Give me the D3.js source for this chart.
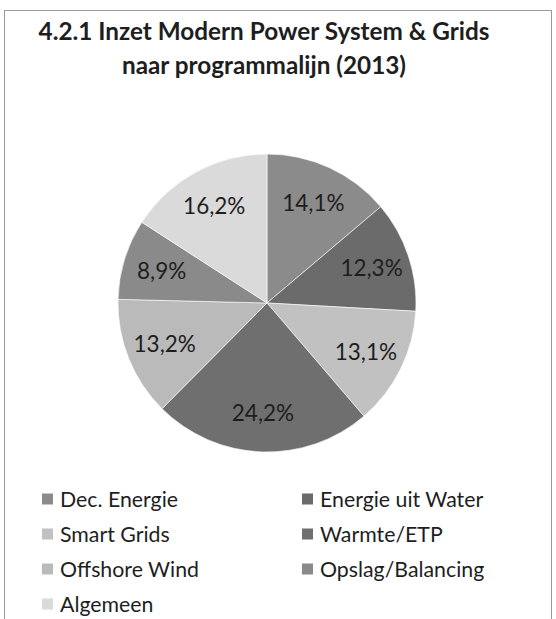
<!DOCTYPE html>
<html>
<head>
<meta charset="utf-8">
<script src="https://cdn.jsdelivr.net/npm/d3@7"></script>
<style>
  html, body { margin: 0; padding: 0; background: #ffffff; }
  svg { display: block; }
  text { font-family: Lato, "Open Sans", sans-serif; fill: #1e1e1e; }
</style>
</head>
<body>
<svg id="chart" width="556" height="619"></svg>
<script>
// Programme lines and their share of the 2013 budget (percent)
const categories = [
  "Dec. Energie",
  "Energie uit Water",
  "Smart Grids",
  "Warmte/ETP",
  "Offshore Wind",
  "Opslag/Balancing",
  "Algemeen"
];
const shares = [14.1, 12.3, 13.1, 24.2, 13.2, 8.9, 16.2];
const shareLabels = ["14,1%", "12,3%", "13,1%", "24,2%", "13,2%", "8,9%", "16,2%"];
const sliceColors = ["#8b8b8b", "#6b6b6b", "#c1c1c1", "#6f6f6f", "#bababa", "#8a8a8a", "#dadada"];
const titleLines = ["4.2.1 Inzet Modern Power System & Grids", "naar programmalijn (2013)"];

const svg = d3.select("#chart");
const W = 556, H = 619;

// outer frame of the chart area
svg.append("rect")
  .attr("x", 4.5).attr("y", 10.5)
  .attr("width", 547).attr("height", H)
  .attr("fill", "#ffffff")
  .attr("stroke", "#9a9a9a")
  .attr("stroke-width", 1);

// title
svg.append("g").selectAll("text")
  .data(titleLines)
  .join("text")
  .attr("x", 264)
  .attr("y", (d, i) => 40 + i * 34)
  .attr("text-anchor", "middle")
  .attr("font-size", 24.3)
  .attr("font-weight", 700)
  .text(d => d);

// pie
const cx = 267, cy = 303, R = 149;
const data = categories.map((c, i) => ({ name: c, value: shares[i], label: shareLabels[i], color: sliceColors[i] }));
const pie = d3.pie().value(d => d.value).sort(null);
const arcs = pie(data);
const arc = d3.arc().innerRadius(0).outerRadius(R);
const labelArc = d3.arc().innerRadius(R * 0.74).outerRadius(R * 0.74);

const g = svg.append("g").attr("transform", `translate(${cx},${cy})`);
g.selectAll("path")
  .data(arcs)
  .join("path")
  .attr("d", arc)
  .attr("fill", d => d.data.color)
  .attr("stroke", "#ffffff")
  .attr("stroke-width", 0.6);

g.selectAll("text")
  .data(arcs)
  .join("text")
  .attr("transform", d => `translate(${labelArc.centroid(d)})`)
  .attr("text-anchor", "middle")
  .attr("dy", "0.36em")
  .attr("font-size", 22.5)
  .text(d => d.data.label);

// legend: two columns, filled row by row
const colX = [42, 302];
const rowY0 = 499, rowStep = 35;
const legend = svg.append("g").selectAll("g")
  .data(data)
  .join("g")
  .attr("transform", (d, i) => `translate(${colX[i % 2]},${rowY0 + Math.floor(i / 2) * rowStep})`);
legend.append("rect")
  .attr("x", 0).attr("y", -5.5)
  .attr("width", 11).attr("height", 11)
  .attr("fill", d => d.color);
legend.append("text")
  .attr("x", 18)
  .attr("dy", "0.36em")
  .attr("font-size", 21.3)
  .text(d => d.name);
</script>
</body>
</html>
